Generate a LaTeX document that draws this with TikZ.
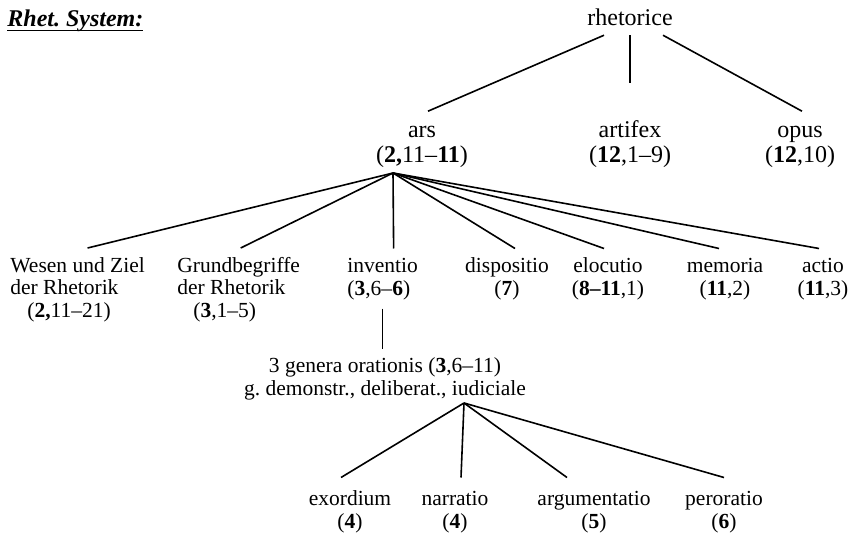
\documentclass[tikz,border=0pt]{standalone}
\usepackage{fontspec}
\setmainfont{Liberation Serif}
\frenchspacing
\newcommand\titleul[1]{\setbox0\hbox{#1}\rlap{\rule[-2.2pt]{\wd0}{0.75pt}}\box0}
\tikzset{
  every node/.style={inner sep=0pt, outer ysep=4.5pt, anchor=base},
  big/.style={font=\fontsize{12}{13}\selectfont, align=center, text height=8.4pt},
  bigtwo/.style={big, text height=21.4pt},
  small/.style={font=\fontsize{10.75}{11.25}\selectfont, align=center},
  smalltwo/.style={small, text height=18.75pt},
  smallthree/.style={small, text height=30pt},
  branch/.style={line width=0.8pt},
}
\begin{document}
\begin{tikzpicture}[x=0.5pt, y=-0.5pt]
\useasboundingbox (0,0) rectangle (861,534);
\node[anchor=base west, font=\bfseries\itshape\fontsize{12}{13}\selectfont] (title) at (7,27) {\titleul{Rhet. System:}};

\node[big] (rhet) at (630,26) {rhetorice};
\node[bigtwo] (ars) at (422,163) {ars\\(\textbf{2,}11--\textbf{11})};
\node[bigtwo] (artifex) at (630,163) {artifex\\(\textbf{12},1--9)};
\node[bigtwo] (opus) at (800,163) {opus\\(\textbf{12},10)};

\draw[branch] ([xshift=-13pt]rhet.south) -- ([xshift=3pt]ars.north);
\draw[branch, shorten >=14pt] (rhet.south) -- (artifex.north);
\draw[branch] ([xshift=16.5pt]rhet.south) -- ([xshift=1pt]opus.north);

\node[smallthree, align=left, anchor=base west] (wesen) at (10,317) {Wesen und Ziel\\der Rhetorik\\\hspace*{8.5pt}(\textbf{2,}11--21)};
\node[smallthree, align=left, anchor=base west] (grund) at (177,317) {Grundbegriffe\\der Rhetorik\\\hspace*{8pt}(\textbf{3},1--5)};
\node[smalltwo, align=left, anchor=base west] (invent) at (347,295) {inventio\\(\textbf{3},6--\textbf{6})};
\node[smalltwo] (dispo) at (507,295) {dispositio\\(\textbf{7})};
\node[smalltwo] (elocu) at (608,295) {elocutio\\(\textbf{8--11},1)};
\node[smalltwo] (memo) at (725,295) {memoria\\(\textbf{11},2)};
\node[smalltwo] (actio) at (823,295) {actio\\(\textbf{11},3)};

\coordinate (arsfan) at (393,173);
\draw[branch] (arsfan) -- ([xshift=5pt]wesen.north);
\draw[branch] (arsfan) -- ([xshift=1pt]grund.north);
\draw[branch] (arsfan) -- ([xshift=5.5pt]invent.north);
\draw[branch] (arsfan) -- ([xshift=4pt]dispo.north);
\draw[branch] (arsfan) -- ([xshift=-2pt]elocu.north);
\draw[branch] (arsfan) -- ([xshift=-3pt]memo.north);
\draw[branch] (arsfan) -- ([xshift=-2pt]actio.north);

\node[smalltwo] (genera) at (385,395) {3 genera orationis (\textbf{3},6--11)\\g. demonstr., deliberat., iudiciale};
\draw[branch] (invent.south) -- (invent.south |- genera.north);

\node[smalltwo] (exord) at (350,528) {exordium\\(\textbf{4})};
\node[smalltwo] (narr) at (455,528) {narratio\\(\textbf{4})};
\node[smalltwo] (argum) at (594,528) {argumentatio\\(\textbf{5})};
\node[smalltwo] (peror) at (724,528) {peroratio\\(\textbf{6})};

\coordinate (generafan) at (464,403);
\draw[branch] (generafan) -- ([xshift=-4.5pt, yshift=2pt]exord.north);
\draw[branch] (generafan) -- ([xshift=3pt, yshift=2pt]narr.north);
\draw[branch] (generafan) -- ([xshift=-13.5pt, yshift=2pt]argum.north);
\draw[branch] (generafan) -- ([yshift=2pt]peror.north);
\end{tikzpicture}
\end{document}
